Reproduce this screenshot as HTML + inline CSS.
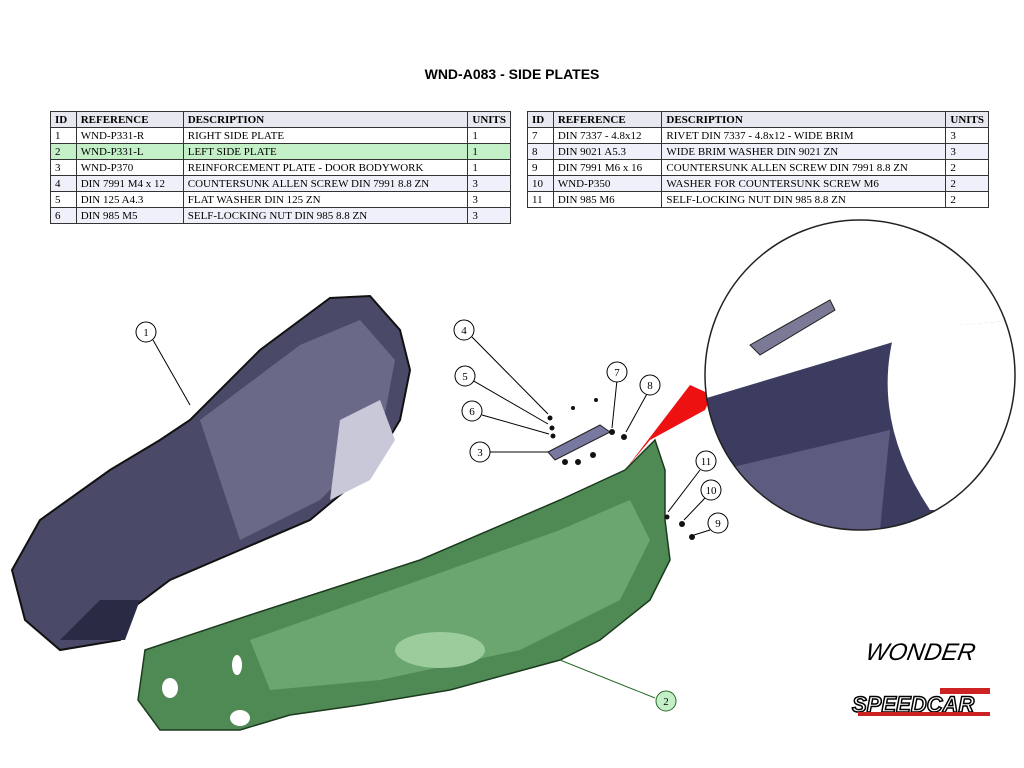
<!DOCTYPE html>
<html><head><style>
body{margin:0;width:1024px;height:768px;background:#fff;position:relative;overflow:hidden;font-family:"Liberation Serif",serif}
h1{position:absolute;top:66px;left:0;width:1024px;text-align:center;font:bold 14px "Liberation Sans",sans-serif;margin:0}
table{position:absolute;border-collapse:collapse;font-size:11px;top:111px}
td,th{border:1px solid #333;padding:0 4px;height:15px;text-align:left;white-space:nowrap;line-height:14px}
th{background:#e8e8f0;font-weight:bold}
.l{background:#f0f0fa}.g{background:#c4f0c8}
</style></head><body>
<h1>WND-A083 - SIDE PLATES</h1>
<table style="left:50px;width:461px">
<tr><th style="width:17px">ID</th><th style="width:99px">REFERENCE</th><th style="width:278px">DESCRIPTION</th><th>UNITS</th></tr>
<tr><td>1</td><td>WND-P331-R</td><td>RIGHT SIDE PLATE</td><td>1</td></tr>
<tr class="g"><td>2</td><td>WND-P331-L</td><td>LEFT SIDE PLATE</td><td>1</td></tr>
<tr><td>3</td><td>WND-P370</td><td>REINFORCEMENT PLATE - DOOR BODYWORK</td><td>1</td></tr>
<tr class="l"><td>4</td><td>DIN 7991 M4 x 12</td><td>COUNTERSUNK ALLEN SCREW DIN 7991 8.8 ZN</td><td>3</td></tr>
<tr><td>5</td><td>DIN 125 A4.3</td><td>FLAT WASHER DIN 125 ZN</td><td>3</td></tr>
<tr class="l"><td>6</td><td>DIN 985 M5</td><td>SELF-LOCKING NUT DIN 985 8.8 ZN</td><td>3</td></tr>
</table>
<table style="left:527px;width:462px">
<tr><th style="width:17px">ID</th><th style="width:100px">REFERENCE</th><th style="width:276px">DESCRIPTION</th><th>UNITS</th></tr>
<tr><td>7</td><td>DIN 7337 - 4.8x12</td><td>RIVET DIN 7337 - 4.8x12 - WIDE BRIM</td><td>3</td></tr>
<tr class="l"><td>8</td><td>DIN 9021 A5.3</td><td>WIDE BRIM WASHER DIN 9021 ZN</td><td>3</td></tr>
<tr><td>9</td><td>DIN 7991 M6 x 16</td><td>COUNTERSUNK ALLEN SCREW DIN 7991 8.8 ZN</td><td>2</td></tr>
<tr class="l"><td>10</td><td>WND-P350</td><td>WASHER FOR COUNTERSUNK SCREW M6</td><td>2</td></tr>
<tr><td>11</td><td>DIN 985 M6</td><td>SELF-LOCKING NUT DIN 985 8.8 ZN</td><td>2</td></tr>
</table>
<svg width="1024" height="768" style="position:absolute;left:0;top:0" font-family="Liberation Serif" font-size="11">
<defs><clipPath id="c"><circle cx="860" cy="375" r="155"/></clipPath></defs>
<!-- dark plate -->
<path d="M12,570 L40,520 L110,470 L160,440 L190,420 L260,350 L330,298 L370,296 L400,330 L410,370 L400,420 L370,470 L310,520 L240,550 L170,580 L130,610 L120,640 L60,650 L25,620 Z" fill="#4a4a68" stroke="#111" stroke-width="2"/>
<path d="M200,420 L300,345 L360,320 L395,360 L380,440 L320,500 L240,540 Z" fill="#6a6a88"/>
<path d="M340,420 L380,400 L395,440 L370,480 L330,500 Z" fill="#c8c8d8"/>
<path d="M60,640 L100,600 L140,600 L125,640 Z" fill="#2a2a45"/>
<!-- red -->
<path d="M625,470 L690,385 L712,395 L705,410 L650,440 Z" fill="#ee1111"/>
<!-- green plate -->
<path d="M145,650 L250,615 L420,560 L560,500 L625,470 L655,440 L665,470 L665,520 L670,560 L650,600 L600,640 L560,660 L450,690 L360,705 L290,715 L240,730 L160,730 L138,700 Z" fill="#4f8a55" stroke="#1c3a1e" stroke-width="1.5"/>
<path d="M250,640 L420,580 L560,530 L630,500 L650,540 L620,600 L520,650 L380,680 L270,690 Z" fill="#6aa66e"/>
<ellipse cx="440" cy="650" rx="45" ry="18" fill="#9ccc9c"/>
<ellipse cx="170" cy="688" rx="8" ry="10" fill="#fff"/>
<ellipse cx="237" cy="665" rx="5" ry="10" fill="#fff"/>
<ellipse cx="240" cy="718" rx="10" ry="8" fill="#fff"/>
<!-- reinforcement plate -->
<path d="M548,452 L600,425 L610,432 L555,460 Z" fill="#7878a0" stroke="#222"/>
<g fill="#111"><circle cx="550" cy="418" r="2.5"/><circle cx="552" cy="428" r="2.5"/><circle cx="553" cy="436" r="2.5"/><circle cx="612" cy="432" r="3"/><circle cx="624" cy="437" r="3"/><circle cx="565" cy="462" r="3"/><circle cx="578" cy="462" r="3"/><circle cx="593" cy="455" r="3"/><circle cx="573" cy="408" r="2"/><circle cx="596" cy="400" r="2"/><circle cx="667" cy="517" r="2.5"/><circle cx="682" cy="524" r="3"/><circle cx="692" cy="537" r="3"/></g>
<!-- zoom circle -->
<g clip-path="url(#c)">
<rect x="700" y="220" width="320" height="310" fill="#fff"/>
<path d="M700,400 L900,340 L900,330 L1020,320 L1020,530 L700,530 Z" fill="#3c3c60"/>
<path d="M720,470 L890,430 L880,530 L720,530 Z" fill="#5c5c80"/>
<path d="M895,330 Q870,420 930,510 L1020,510 L1020,320 Z" fill="#fff"/>
<path d="M750,345 L830,300 L835,310 L760,355 Z" fill="#7a7a96" stroke="#222"/>
</g>
<circle cx="860" cy="375" r="155" fill="none" stroke="#222" stroke-width="1.5"/>
<!-- leaders -->
<g stroke="#000" fill="none" stroke-width="1">
<line x1="153" y1="340" x2="190" y2="405"/><line x1="472" y1="337" x2="548" y2="414"/><line x1="472" y1="380" x2="548" y2="424"/><line x1="482" y1="415" x2="549" y2="434"/><line x1="488" y1="452" x2="548" y2="452"/><line x1="617" y1="380" x2="612" y2="428"/><line x1="648" y1="392" x2="626" y2="432"/><line x1="700" y1="470" x2="668" y2="512"/><line x1="705" y1="498" x2="684" y2="520"/><line x1="710" y1="530" x2="694" y2="535"/>
<line x1="560" y1="660" x2="655" y2="698" stroke="#2a6a2a"/>
</g>
<g stroke="#000" fill="#fff">
<circle cx="146" cy="332" r="10"/><circle cx="464" cy="330" r="10"/><circle cx="465" cy="376" r="10"/><circle cx="472" cy="411" r="10"/><circle cx="480" cy="452" r="10"/><circle cx="617" cy="372" r="10"/><circle cx="650" cy="385" r="10"/><circle cx="706" cy="461" r="10"/><circle cx="711" cy="490" r="10"/><circle cx="718" cy="523" r="10"/>
<circle cx="666" cy="701" r="10" fill="#c4f0c8" stroke="#2a6a2a"/>
</g>
<g text-anchor="middle"><text x="146" y="336">1</text><text x="464" y="334">4</text><text x="465" y="380">5</text><text x="472" y="415">6</text><text x="480" y="456">3</text><text x="617" y="376">7</text><text x="650" y="389">8</text><text x="706" y="465">11</text><text x="711" y="494">10</text><text x="718" y="527">9</text><text x="666" y="705">2</text></g>
<text x="866" y="660" font-family="Liberation Sans" font-style="italic" font-size="24" transform="skewX(-10)" dx="115">WONDER</text>
<rect x="940" y="688" width="50" height="6" fill="#c22"/>
<text x="852" y="712" font-family="Liberation Sans" font-weight="bold" font-style="italic" font-size="22" fill="#fff" stroke="#000" stroke-width="1.5">SPEEDCAR</text>
<rect x="858" y="712" width="132" height="4" fill="#c22"/>
</svg>
</body></html>
